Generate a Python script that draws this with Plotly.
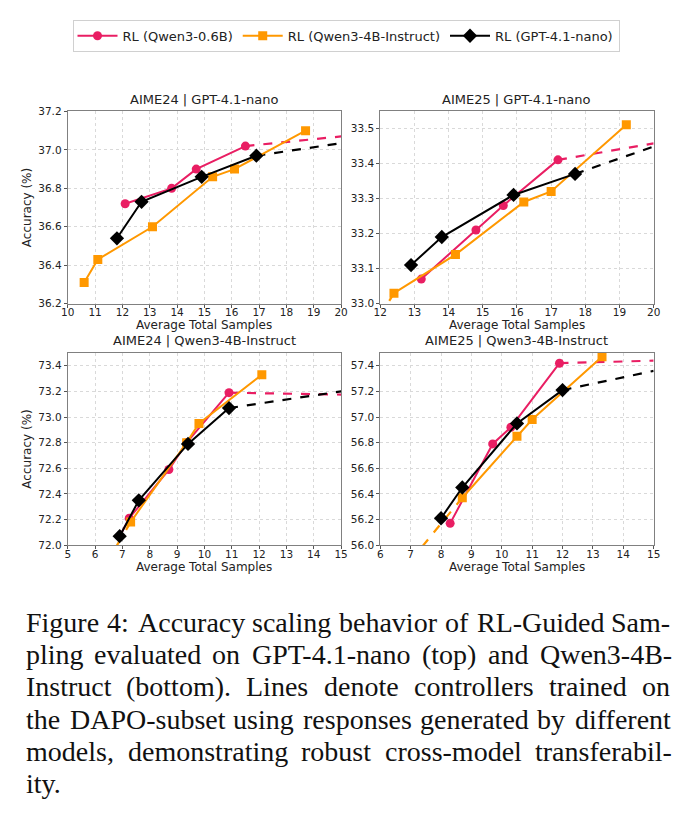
import plotly.graph_objects as go

W, H = 692, 836

# ---------------- data ----------------
# Panel 1: AIME24 | GPT-4.1-nano
p1_q06_x = [12.1, 13.8, 14.7, 16.5]
p1_q06_y = [36.72, 36.80, 36.90, 37.02]
p1_q06_ext_x = [16.5, 20.0]
p1_q06_ext_y = [37.02, 37.07]
p1_q4b_x = [10.6, 11.1, 13.1, 15.3, 16.1, 18.7]
p1_q4b_y = [36.31, 36.43, 36.60, 36.86, 36.90, 37.10]
p1_gpt_x = [11.8, 12.7, 14.9, 16.9]
p1_gpt_y = [36.54, 36.73, 36.86, 36.97]
p1_gpt_ext_x = [16.9, 20.0]
p1_gpt_ext_y = [36.97, 37.035]

# Panel 2: AIME25 | GPT-4.1-nano
p2_q06_x = [13.2, 14.8, 15.6, 17.2]
p2_q06_y = [33.07, 33.21, 33.28, 33.41]
p2_q06_ext_x = [17.2, 20.0]
p2_q06_ext_y = [33.41, 33.457]
p2_q4b_x = [12.4, 14.2, 16.2, 17.0, 19.2]
p2_q4b_y = [33.03, 33.14, 33.29, 33.32, 33.51]
p2_q4b_ext_x = [12.4, 12.15]
p2_q4b_ext_y = [33.03, 32.99]
p2_gpt_x = [12.9, 13.8, 15.9, 17.7]
p2_gpt_y = [33.11, 33.19, 33.31, 33.37]
p2_gpt_ext_x = [17.7, 20.0]
p2_gpt_ext_y = [33.37, 33.448]

# Panel 3: AIME24 | Qwen3-4B-Instruct
p3_q06_x = [6.9, 7.25, 8.7, 9.35, 10.9]
p3_q06_y = [72.07, 72.21, 72.59, 72.80, 73.19]
p3_q06_ext_x = [10.9, 15.0]
p3_q06_ext_y = [73.19, 73.175]
p3_q4b_x = [7.3, 9.35, 9.8, 12.1]
p3_q4b_y = [72.18, 72.80, 72.95, 73.33]
p3_q4b_ext_x = [7.3, 6.75]
p3_q4b_ext_y = [72.18, 71.98]
p3_gpt_x = [6.9, 7.6, 9.4, 10.9]
p3_gpt_y = [72.07, 72.35, 72.79, 73.07]
p3_gpt_ext_x = [10.9, 15.0]
p3_gpt_ext_y = [73.07, 73.20]

# Panel 4: AIME25 | Qwen3-4B-Instruct
p4_q06_x = [8.3, 9.7, 10.3, 11.9]
p4_q06_y = [56.17, 56.79, 56.92, 57.42]
p4_q06_ext_x = [11.9, 15.0]
p4_q06_ext_y = [57.42, 57.44]
p4_q4b_x = [8.7, 10.5, 11.0, 13.3]
p4_q4b_y = [56.37, 56.85, 56.98, 57.47]
p4_q4b_ext_x = [8.7, 7.35]
p4_q4b_ext_y = [56.37, 55.98]
p4_gpt_x = [8.0, 8.7, 10.5, 12.0]
p4_gpt_y = [56.21, 56.45, 56.95, 57.21]
p4_gpt_ext_x = [12.0, 15.0]
p4_gpt_ext_y = [57.21, 57.36]

panel_titles = ["AIME24 | GPT-4.1-nano", "AIME25 | GPT-4.1-nano",
                "AIME24 | Qwen3-4B-Instruct", "AIME25 | Qwen3-4B-Instruct"]
series_names = ["RL (Qwen3-0.6B)", "RL (Qwen3-4B-Instruct)", "RL (GPT-4.1-nano)"]
x_title = "Average Total Samples"
y_title = "Accuracy (%)"

x_ranges = [[10, 20], [12, 20], [5, 15], [6, 15]]
x_dticks = [1, 1, 1, 1]
y_ranges = [[36.2, 37.2], [33.0, 33.548], [72.0, 73.5], [56.0, 57.5]]
y_dticks = [0.2, 0.1, 0.2, 0.2]

caption_lines = [
    "Figure 4:  Accuracy scaling behavior of RL-Guided Sam-",
    "pling evaluated on GPT-4.1-nano (top) and Qwen3-4B-",
    "Instruct (bottom).  Lines denote controllers trained on",
    "the DAPO-subset using responses generated by different",
    "models, demonstrating robust cross-model transferabil-",
    "ity.",
]

# ---------------- styling ----------------
PINK = "#E91E63"
ORANGE = "#FF9800"
BLACK = "#000000"
colors = [PINK, ORANGE, BLACK]
symbols = ["circle", "square", "diamond"]
msizes = [9, 9, 11]
FONT = "DejaVu Sans"
TXT = "#222222"

# plot area pixel boxes (left, right, top, bottom)
boxes = [(62, 341, 107, 302), (381, 660, 107, 302),
         (62, 341, 352, 547), (381, 660, 352, 547)]

panels = [
    [(p1_q06_x, p1_q06_y, p1_q06_ext_x, p1_q06_ext_y),
     (p1_q4b_x, p1_q4b_y, None, None),
     (p1_gpt_x, p1_gpt_y, p1_gpt_ext_x, p1_gpt_ext_y)],
    [(p2_q06_x, p2_q06_y, p2_q06_ext_x, p2_q06_ext_y),
     (p2_q4b_x, p2_q4b_y, p2_q4b_ext_x, p2_q4b_ext_y),
     (p2_gpt_x, p2_gpt_y, p2_gpt_ext_x, p2_gpt_ext_y)],
    [(p3_q06_x, p3_q06_y, p3_q06_ext_x, p3_q06_ext_y),
     (p3_q4b_x, p3_q4b_y, p3_q4b_ext_x, p3_q4b_ext_y),
     (p3_gpt_x, p3_gpt_y, p3_gpt_ext_x, p3_gpt_ext_y)],
    [(p4_q06_x, p4_q06_y, p4_q06_ext_x, p4_q06_ext_y),
     (p4_q4b_x, p4_q4b_y, p4_q4b_ext_x, p4_q4b_ext_y),
     (p4_gpt_x, p4_gpt_y, p4_gpt_ext_x, p4_gpt_ext_y)],
]

fig = go.Figure()
layout = {}
annotations = []


def px(xp, yp):
    return xp / W, 1 - yp / H


for i, (box, series) in enumerate(zip(boxes, panels)):
    n = "" if i == 0 else str(i + 1)
    xa, ya = "x" + n, "y" + n
    l, r, t, b = box
    layout["xaxis" + n] = dict(
        domain=[l / W, r / W], anchor=ya, range=x_ranges[i], dtick=x_dticks[i],
        tick0=0, showgrid=True, gridcolor="#d9d9d9", griddash="dot", gridwidth=1,
        showline=True, mirror=True, linecolor="#808080", linewidth=1,
        ticks="outside", ticklen=3, tickcolor="#555", zeroline=False,
        ticklabelstandoff=-4,
        tickfont=dict(family=FONT, size=10.5, color=TXT),
    )
    layout["yaxis" + n] = dict(
        domain=[1 - b / H, 1 - t / H], anchor=xa, range=y_ranges[i], dtick=y_dticks[i],
        tick0=0, tickformat=".1f", showgrid=True, gridcolor="#d9d9d9",
        griddash="dot", gridwidth=1, showline=True, mirror=True, linecolor="#808080",
        linewidth=1, ticks="outside", ticklen=3, tickcolor="#555", zeroline=False,
        tickfont=dict(family=FONT, size=10.5, color=TXT),
    )
    # subplot title
    ax_, ay_ = px((l + r) / 2, t - 3)
    annotations.append(dict(
        text=panel_titles[i], x=ax_, y=ay_, xref="paper", yref="paper",
        xanchor="center", yanchor="bottom", showarrow=False,
        font=dict(family=FONT, size=13, color=TXT)))
    # x-axis title
    ax_, ay_ = px((l + r) / 2, b + 22)
    annotations.append(dict(
        text=x_title, x=ax_, y=ay_, xref="paper", yref="paper",
        xanchor="center", yanchor="middle", showarrow=False,
        font=dict(family=FONT, size=12, color=TXT)))
    # y-axis title (left column only)
    if i in (0, 2):
        ax_, ay_ = px(20, (t + b) / 2)
        annotations.append(dict(
            text=y_title, x=ax_, y=ay_, xref="paper", yref="paper", textangle=-90,
            xanchor="center", yanchor="middle", showarrow=False,
            font=dict(family=FONT, size=12, color=TXT)))
    for k, (sx, sy, ex, ey) in enumerate(series):
        if ex is not None:
            fig.add_trace(go.Scatter(
                x=ex, y=ey, mode="lines", xaxis=xa, yaxis=ya, showlegend=False,
                line=dict(color=colors[k], width=2.2, dash="dash"), hoverinfo="skip"))
    for k, (sx, sy, ex, ey) in enumerate(series):
        fig.add_trace(go.Scatter(
            x=sx, y=sy, mode="lines+markers", xaxis=xa, yaxis=ya,
            name=series_names[k], showlegend=(i == 0), legendgroup=str(k),
            line=dict(color=colors[k], width=2),
            marker=dict(symbol=symbols[k], size=msizes[k], color=colors[k])))

# ---------------- justified caption ----------------
# Times-compatible advance widths (per 1000 em) for Liberation Serif
_tw = {' ': 250, 'a': 444, 'b': 500, 'c': 444, 'd': 500, 'e': 444, 'f': 333, 'g': 500,
       'h': 500, 'i': 278, 'j': 278, 'k': 500, 'l': 278, 'm': 778, 'n': 500, 'o': 500,
       'p': 500, 'q': 500, 'r': 333, 's': 389, 't': 278, 'u': 500, 'v': 500, 'w': 722,
       'x': 500, 'y': 500, 'z': 444, 'A': 722, 'B': 667, 'C': 667, 'D': 722, 'E': 611,
       'F': 556, 'G': 722, 'H': 722, 'I': 333, 'J': 389, 'K': 722, 'L': 611, 'M': 889,
       'N': 722, 'O': 722, 'P': 556, 'Q': 722, 'R': 667, 'S': 556, 'T': 611, 'U': 722,
       'V': 722, 'W': 944, 'X': 722, 'Y': 722, 'Z': 611, '.': 250, ',': 250, ':': 278,
       '-': 333, '(': 333, ')': 333, '%': 833}
CAP_SIZE = 28
CAP_LEFT, CAP_RIGHT = 18, 675


def tw(s):
    return sum(_tw.get(c, 500) for c in s) * CAP_SIZE / 1000.0


for j, line in enumerate(caption_lines):
    yp = 625 + 32.8 * j
    words = line.split()
    last = (j == len(caption_lines) - 1)
    if last or len(words) == 1:
        gap = tw(" ")
    else:
        total = sum(tw(w_) for w_ in words)
        gap = (CAP_RIGHT - CAP_LEFT - total) / (len(words) - 1)
    xs = []
    xcur = CAP_LEFT
    for w_ in words:
        xs.append(xcur)
        xcur += tw(w_) + gap
    for w_, xw in zip(words, xs):
        ax_, ay_ = px(xw, yp)
        annotations.append(dict(
            text=w_, x=ax_, y=ay_, xref="paper", yref="paper",
            xanchor="left", yanchor="middle", showarrow=False,
            borderpad=0, font=dict(family="Liberation Serif", size=CAP_SIZE, color="#111")))

fig.update_layout(
    width=W, height=H, margin=dict(l=0, r=0, t=0, b=0),
    paper_bgcolor="white", plot_bgcolor="white",
    annotations=annotations,
    legend=dict(orientation="h", x=0.5, xanchor="center", y=1 - 14 / H, yanchor="top",
                bordercolor="#d0d0d0", borderwidth=1, bgcolor="white",
                font=dict(family=FONT, size=13, color=TXT), itemwidth=40),
    **layout,
)

fig.write_html("out.html")
